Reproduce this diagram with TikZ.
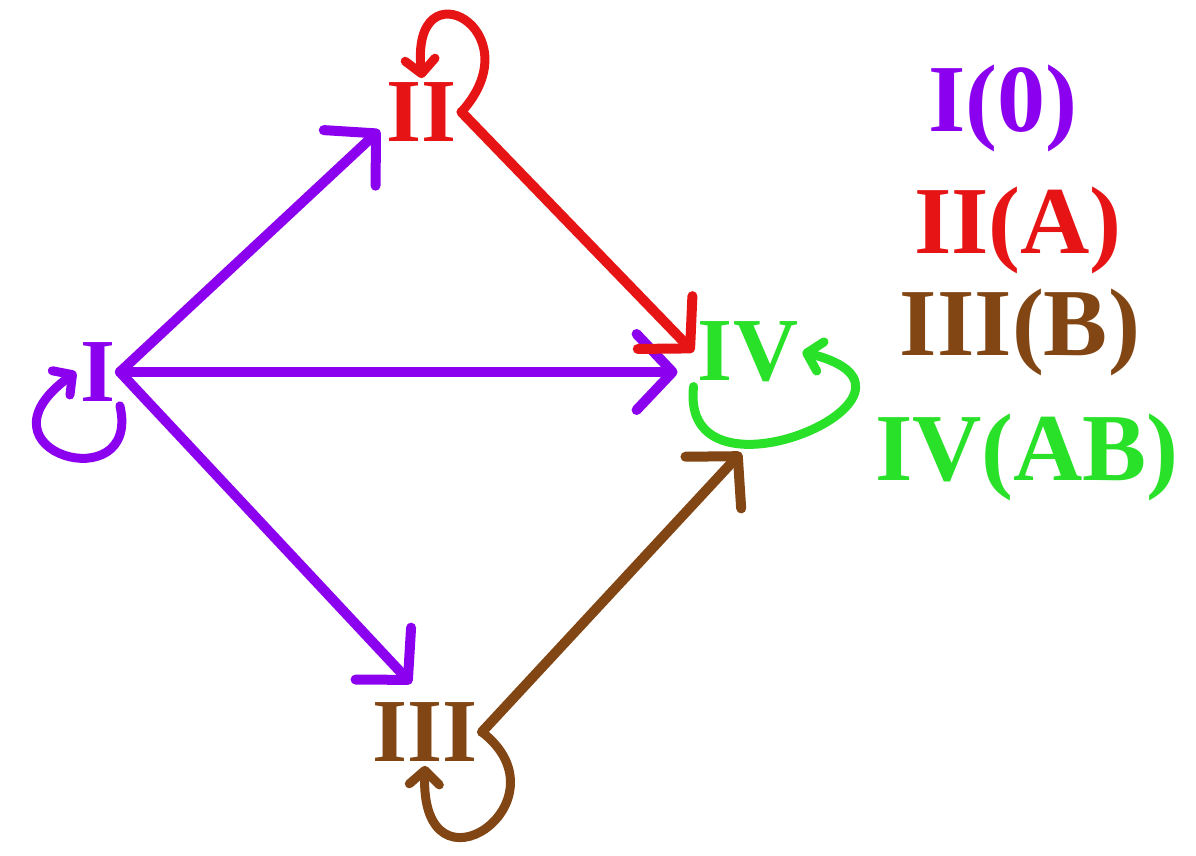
\documentclass[tikz,border=0pt]{standalone}
\usepackage{fontspec}
\setmainfont{Liberation Serif}
\usepackage{xcolor}
\usepackage{tikz}
\usetikzlibrary{arrows.meta,calc}

\definecolor{purp}{RGB}{140,0,240}
\definecolor{redc}{RGB}{230,20,20}
\definecolor{brownc}{RGB}{130,70,20}
\definecolor{greenc}{RGB}{40,225,40}

\begin{document}
\begin{tikzpicture}[x=0.5pt,y=-0.5pt,
  lbl/.style={inner sep=2pt,font=\fontsize{45}{50}\selectfont\bfseries},
  key/.style={inner sep=0pt,font=\fontsize{48}{52}\selectfont\bfseries},
  edge/.style={line width=5pt,line cap=round,-{Straight Barb[length=18pt,width=38pt,round]}},
  selfloop/.style={line width=4.5pt,line cap=round,-{Straight Barb[length=7pt,width=15pt,round]}}]
  \fill[white] (0,0) rectangle (1196,856);
  \useasboundingbox (0,0) rectangle (1196,856);
  % states
  \node[lbl,text=purp] (I) at (98,372) {I};
  \node[lbl,text=redc] (II) at (422,112) {II};
  \node[lbl,text=brownc] (III) at (425,732) {III};
  \node[lbl,text=greenc] (IV) at (748,352) {IV};
  % legend
  \node[key,text=purp] (k0) at (1003,108) {I(0)};
  \node[key,text=redc] (kA) at (1018,230) {II(A)};
  \node[key,text=brownc] (kB) at (1020,332) {III(B)};
  \node[key,text=greenc] (kAB) at (1027,457) {IV(AB)};
  % transitions
  \draw[edge,purp,shorten >=2pt] (I.east) -- ($(II.west)!0.45!(II.south west)$);
  \draw[edge,purp,shorten >=8pt] (I.east) -- (I.east -| IV.west);
  \draw[edge,purp,shorten >=10pt] (I.east) -- (III.north);
  \draw[edge,redc] (II.east) -- (IV.west);
  \draw[edge,brownc,shorten >=45pt] (III.east) -- (IV.south east);
  % self loops
  \draw[selfloop,purp] (I.south east) .. controls +(22,95) and +(-110,80) .. (I.west);
  \draw[selfloop,redc] (II.east) .. controls +(74,-82) and +(-12,-116) .. (II.north);
  \draw[selfloop,greenc] (IV.south west) .. controls +(-15,130) and +(160,40) .. (IV.east);
  \draw[selfloop,brownc] (III.east) .. controls +(90,70) and +(-5,140) .. (III.south);
\end{tikzpicture}
\end{document}
